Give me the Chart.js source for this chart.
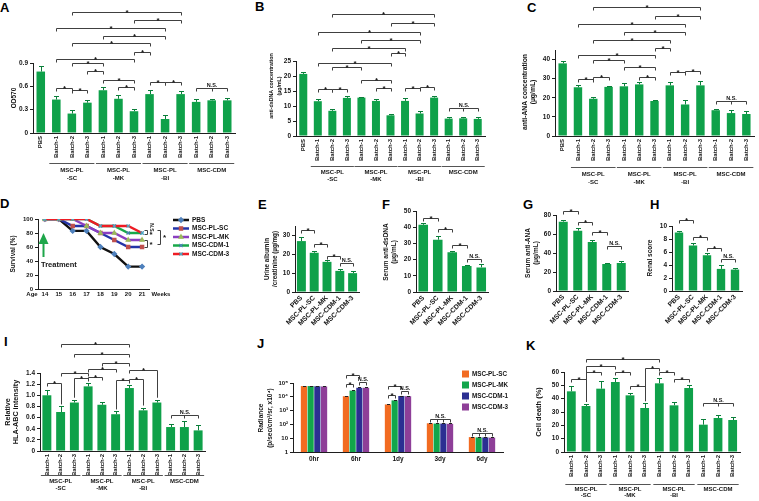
<!DOCTYPE html>
<html>
<head>
<meta charset="utf-8">
<title>MSC batches figure</title>
<script src="https://cdn.jsdelivr.net/npm/chart.js@4.4.1/dist/chart.umd.min.js"></script>
<style>
  body { margin:0; width:759px; height:501px; background:#fff; position:relative; overflow:hidden; font-family:"Liberation Sans", Arial, sans-serif; }
  canvas { position:absolute; }
  .tag { position:absolute; font-weight:bold; font-size:13px; line-height:13px; color:#000; }
</style>
</head>
<body>
<div class="tag" style="left:0px;top:1px">A</div>
<div class="tag" style="left:255px;top:0px">B</div>
<div class="tag" style="left:527px;top:1px">C</div>
<div class="tag" style="left:0px;top:197px">D</div>
<div class="tag" style="left:258px;top:198px">E</div>
<div class="tag" style="left:382px;top:198px">F</div>
<div class="tag" style="left:523px;top:198px">G</div>
<div class="tag" style="left:650px;top:198px">H</div>
<div class="tag" style="left:4px;top:335px">I</div>
<div class="tag" style="left:257px;top:337px">J</div>
<div class="tag" style="left:526px;top:339px">K</div>
<script>
// ---- data ----
const batches = ['Batch-1', 'Batch-2', 'Batch-3'];
const batchLabels = [].concat(batches, batches, batches, batches);
const panelLabels = ['PBS'].concat(batchLabels);
const groupNames = [['MSC-PL', '-SC'], ['MSC-PL', '-MK'], ['MSC-PL', '-BI'], ['MSC-CDM']];

const od570    = [0.79, 0.43, 0.25, 0.39, 0.55, 0.44, 0.28, 0.50, 0.18, 0.50, 0.40, 0.42, 0.42];
const od570Err = [0.07, 0.05, 0.04, 0.04, 0.04, 0.05, 0.03, 0.05, 0.05, 0.04, 0.04, 0.02, 0.03];
const dsDNA    = [20.7, 11.6, 8.4, 12.7, 12.8, 11.7, 6.9, 11.7, 7.5, 12.8, 5.8, 5.9, 5.7];
const dsDNAErr = [0.7, 0.8, 0.5, 0.6, 0.2, 0.8, 0.4, 1.0, 0.9, 0.6, 0.5, 0.3, 0.8];
const ana      = [38.0, 25.5, 19.5, 25.7, 26.0, 27.0, 18.3, 26.5, 16.5, 26.5, 13.5, 12.0, 11.5];
const anaErr   = [1.2, 1.0, 0.8, 0.3, 1.5, 1.0, 0.4, 1.5, 2.2, 2.5, 0.5, 1.5, 1.5];

const weeks     = [14, 15, 16, 17, 18, 19, 20, 21];
const survPBS   = [100, 100, 83, 83, 60, 50, 32, 32];
const survSC    = [100, 100, 90, 90, 80, 70, 60, 60];
const survMK    = [100, 100, 100, 90, 80, 80, 70, 70];
const survCDM1  = [100, 100, 100, 100, 90, 90, 80, 80];
const survCDM3  = [100, 100, 100, 100, 90, 90, 90, 80];

const treatments    = ['PBS', 'MSC-PL-SC', 'MSC-PL-MK', 'MSC-CDM-1', 'MSC-CDM-3'];
const albumin       = [27.0, 20.8, 16.0, 11.2, 10.0];
const albuminErr    = [2.0, 1.2, 1.0, 1.0, 1.2];
const serumDsDNA    = [41.5, 32.3, 24.5, 16.1, 15.2];
const serumDsDNAErr = [1.2, 2.5, 1.0, 0.4, 1.8];
const serumANA      = [73.0, 63.5, 51.5, 28.5, 29.5];
const serumANAErr   = [2.0, 2.5, 2.5, 1.5, 2.5];
const renal         = [9.0, 7.0, 5.5, 3.4, 3.3];
const renalErr      = [0.3, 0.4, 0.4, 0.6, 0.3];

const hla    = [1.00, 0.70, 0.87, 1.16, 0.83, 0.66, 1.13, 0.73, 0.87, 0.43, 0.43, 0.37];
const hlaErr = [0.09, 0.10, 0.05, 0.06, 0.05, 0.05, 0.05, 0.05, 0.05, 0.05, 0.11, 0.10];

const timepoints = ['0hr', '6hr', '1dy', '3dy', '6dy'];
const radSC   = [60000, 11000, 2800, 120, 12];
const radMK   = [60000, 28000, 5500, 115, 11.5];
const radCDM1 = [58000, 45000, 11500, 115, 11.5];
const radCDM3 = [56000, 45000, 11000, 110, 11];
const radSCErr   = [3000, 800, 200, 8, 1];
const radMKErr   = [3000, 1800, 400, 8, 1];
const radCDM1Err = [3000, 2500, 800, 8, 1];
const radCDM3Err = [3000, 2500, 800, 8, 1];
const radTicks = [1, 10, 100, 1000, 10000, 100000];
const radTickLabels = ['1', '10', '10\u00B2', '10\u00B3', '10\u2074', '10\u2075'];

const cellDeath    = [45.5, 34.5, 47.5, 52.5, 42.5, 33.0, 51.5, 35.0, 48.0, 20.5, 25.5, 24.0];
const cellDeathErr = [4.0, 1.5, 5.5, 3.0, 2.0, 3.5, 4.0, 2.5, 2.5, 4.5, 2.5, 2.0];

// ---- styling ----
const GREEN = '#0fa14a', ERR = '#0b7f3a', AX = '#1e1e1e', INK = '#141414', BR = '#404040';
const FONT = "'Liberation Sans', Arial, sans-serif";
Chart.defaults.font.family = FONT;
Chart.defaults.font.weight = 'bold';
Chart.defaults.font.size = 6;
Chart.defaults.color = INK;

function font(size, w) { return (w || 'bold') + ' ' + size + 'px ' + FONT; }
const fmtDec = v => (v === 0 ? '0' : v.toFixed(1));
const fmtInt = v => String(Math.round(v));

function canvasAt(box) {
  const c = document.createElement('canvas');
  c.width = box[2]; c.height = box[3];
  c.style.left = box[0] + 'px'; c.style.top = box[1] + 'px';
  c.style.width = box[2] + 'px'; c.style.height = box[3] + 'px';
  document.body.appendChild(c);
  return c;
}

// box = canvas [x, y, w, h] on page, area = plot [left, top, right, bottom] on page
function frame(box, area) {
  return {
    padding: { left: 0, top: area[1] - box[1], right: box[0] + box[2] - area[2], bottom: 0 },
    yW: area[0] - box[0],
    xH: box[1] + box[3] - area[3]
  };
}

function xCat(f, rot, size, pad) {
  return {
    type: 'category', offset: true,
    grid: { display: false, drawTicks: false },
    border: { color: AX, width: 1 },
    ticks: { autoSkip: false, minRotation: rot, maxRotation: rot, padding: pad, font: { size: size } },
    afterFit: s => { s.height = f.xH; }
  };
}

function yLin(f, max, step, fmt) {
  return {
    type: 'linear', min: 0, max: max,
    grid: { drawOnChartArea: false, tickLength: 3, color: AX },
    border: { color: AX, width: 1 },
    ticks: { stepSize: step, padding: 2, font: { size: 6.5 }, callback: fmt },
    afterFit: s => { s.width = f.yW; }
  };
}

function br(list) {
  return list.map(b => ({ a: [0, b[0]], b: [0, b[1]], y: b[2], t: b[3] || '*', leg: b[4] || '', mid: b[4] === 'm' }));
}

function deco(box, d) {
  return {
    id: 'deco',
    afterDatasetsDraw(chart) {
      const ctx = chart.ctx, ox = box[0], oy = box[1], ys = chart.scales.y;
      const val = p => chart.data.datasets[p[0]].data[p[1]];
      const X = p => chart.getDatasetMeta(p[0]).data[p[1]].x + ox;
      const Y = v => ys.getPixelForValue(v) + oy;
      const errOf = p => (d.errors && d.errors[p[0]]) ? d.errors[p[0]][p[1]] : 0;
      const top = p => Y(val(p) + errOf(p));
      ctx.save();
      ctx.translate(-ox, -oy);
      ctx.lineWidth = 1;

      // error bars
      (d.errors || []).forEach((errs, ds) => {
        if (!errs) return;
        ctx.strokeStyle = d.errColor || ERR;
        const c = d.cap || 2.5;
        errs.forEach((e, i) => {
          const x = Math.round(X([ds, i])) + 0.5, y0 = Y(val([ds, i])), y1 = Math.round(top([ds, i])) + 0.5;
          ctx.beginPath();
          ctx.moveTo(x, y0); ctx.lineTo(x, y1);
          ctx.moveTo(x - c, y1); ctx.lineTo(x + c, y1);
          ctx.stroke();
        });
      });

      // significance brackets
      ctx.textAlign = 'center';
      (d.brackets || []).forEach(b => {
        const x1 = Math.round(X(b.a)) + 0.5, x2 = Math.round(X(b.b)) + 0.5, y = Math.round(b.y) + 0.5;
        const l1 = b.leg.indexOf('l') >= 0 ? top(b.a) - 2 : y + 3;
        const l2 = b.leg.indexOf('r') >= 0 ? top(b.b) - 2 : y + 3;
        ctx.strokeStyle = BR;
        ctx.beginPath();
        ctx.moveTo(x1, l1); ctx.lineTo(x1, y); ctx.lineTo(x2, y); ctx.lineTo(x2, l2);
        if (b.mid) {
          const same = b.a[0] === b.b[0];
          const from = same ? b.a[1] : b.a[0], to = same ? b.b[1] : b.b[0];
          for (let k = from + 1; k < to; k++) {
            const xm = Math.round(X(same ? [b.a[0], k] : [k, b.a[1]])) + 0.5;
            ctx.moveTo(xm, y); ctx.lineTo(xm, y + 3);
          }
        }
        ctx.stroke();
        const star = b.t === '*';
        ctx.fillStyle = INK;
        ctx.font = star ? font(8) : font(5.5);
        ctx.textBaseline = 'alphabetic';
        ctx.fillText(b.t, (x1 + x2) / 2, star ? y + 2.5 : y - 1.5);
      });

      // group underlines
      if (d.groups) {
        const g = d.groups;
        g.spans.forEach((s, k) => {
          const xa = X([0, s[0]]) - g.pad, xb = X([0, s[1]]) + g.pad;
          ctx.strokeStyle = '#555';
          ctx.beginPath(); ctx.moveTo(xa, g.y + 0.5); ctx.lineTo(xb, g.y + 0.5); ctx.stroke();
          ctx.fillStyle = INK; ctx.font = font(6); ctx.textBaseline = 'middle'; ctx.textAlign = 'center';
          groupNames[k].forEach((line, m) => ctx.fillText(line, (xa + xb) / 2, g.ly[m]));
        });
      }

      // free texts (axis titles etc.)
      (d.texts || []).forEach(t => {
        ctx.save();
        ctx.font = font(t.s || 6, t.w);
        ctx.textAlign = t.al || 'center'; ctx.textBaseline = 'middle'; ctx.fillStyle = INK;
        ctx.translate(t.x, t.y);
        if (t.r) ctx.rotate(t.r * Math.PI / 180);
        ctx.fillText(t.t, 0, 0);
        ctx.restore();
      });

      if (d.extra) d.extra(ctx, chart, X, Y);
      ctx.restore();
    }
  };
}

function barPanel(box, area, labels, values, errors, yMax, step, fmt, barPct, d) {
  const f = frame(box, area);
  d.errors = [errors];
  return new Chart(canvasAt(box), {
    type: 'bar',
    data: { labels: labels, datasets: [{ data: values, backgroundColor: GREEN, barPercentage: barPct, categoryPercentage: 1 }] },
    options: {
      responsive: false, animation: false,
      layout: { padding: f.padding },
      plugins: { legend: { display: false }, tooltip: { enabled: false } },
      scales: { x: xCat(f, d.rot || 90, d.xSize || 6, d.xPad || 3), y: yLin(f, yMax, step, fmt) }
    },
    plugins: [deco(box, d)]
  });
}

const plGroups = [[1, 3], [4, 6], [7, 9], [10, 12]];
const batchGroups = [[0, 2], [3, 5], [6, 8], [9, 11]];

// A
barPanel([0, 0, 248, 188], [33, 63, 235, 133], panelLabels, od570, od570Err, 0.9, 0.3, fmtDec, 0.55, {
  brackets: br([[1, 2, 88], [2, 3, 90], [4, 6, 80], [5, 6, 87], [7, 8, 82], [8, 9, 82], [10, 12, 88, 'N.S.', 'm'],
    [3, 4, 71], [2, 4, 63], [1, 6, 59], [6, 7, 52], [2, 7, 43], [4, 8, 36], [1, 8, 28], [6, 9, 20], [2, 9, 12]]),
  groups: { spans: plGroups, y: 163, ly: [170, 178], pad: 7 },
  texts: [{ t: 'OD570', x: 14, y: 98, r: -90, s: 6.5 }]
});

// B
barPanel([250, 0, 252, 188], [296, 61, 485, 136], panelLabels, dsDNA, dsDNAErr, 25, 5, fmtInt, 0.55, {
  brackets: br([[1, 2, 89], [2, 3, 89], [4, 6, 80], [5, 6, 88], [7, 8, 88], [8, 9, 87], [10, 12, 108, 'N.S.', 'm'],
    [2, 4, 67], [1, 6, 63], [6, 7, 53], [2, 7, 48], [4, 8, 40], [1, 8, 32], [6, 9, 23], [2, 9, 14]]),
  groups: { spans: plGroups, y: 166, ly: [172, 179], pad: 7 },
  texts: [{ t: 'anti-dsDNA concentration', x: 272, y: 86, r: -90, s: 5.3 }, { t: '(\u00B5g/mL)', x: 280, y: 86, r: -90, s: 5.3 }]
});

// C
barPanel([505, 0, 254, 188], [555, 50, 754, 136], panelLabels, ana, anaErr, 45, 5, fmtInt, 0.55, {
  brackets: br([[1, 2, 79], [2, 3, 77], [4, 6, 67], [5, 6, 77], [7, 8, 72], [8, 9, 71], [10, 12, 101, 'N.S.', 'm'],
    [2, 4, 60], [1, 6, 55], [6, 7, 48], [2, 7, 40], [4, 8, 32], [1, 8, 24], [6, 9, 16], [2, 9, 7]]),
  groups: { spans: plGroups, y: 167, ly: [174, 182], pad: 7 },
  texts: [{ t: 'anti-ANA concentration', x: 525, y: 92, r: -90, s: 6.8 }, { t: '(\u00B5g/mL)', x: 533, y: 92, r: -90, s: 6.8 }]
});

// D survival
(function () {
  const box = [0, 197, 248, 110], area = [38, 219, 149, 289];
  const f = frame(box, area);
  const series = [
    { label: 'PBS', data: survPBS, color: '#111111', ps: 'rectRot', pc: '#4f81bd', order: 4 },
    { label: 'MSC-PL-SC', data: survSC, color: '#2434a8', ps: 'rect', pc: '#c0504d', order: 3 },
    { label: 'MSC-PL-MK', data: survMK, color: '#8b3fc0', ps: 'triangle', pc: '#9bbb59', order: 2 },
    { label: 'MSC-CDM-1', data: survCDM1, color: '#18a84a', ps: 'crossRot', pc: '#4f81bd', order: 1 },
    { label: 'MSC-CDM-3', data: survCDM3, color: '#ee1c24', ps: 'crossRot', pc: '#4bacc6', order: 0 }
  ];
  new Chart(canvasAt(box), {
    type: 'line',
    data: {
      datasets: series.map(s => ({
        label: s.label, data: weeks.map((w, i) => ({ x: w, y: s.data[i] })),
        borderColor: s.color, borderWidth: 2.4, tension: 0, order: s.order,
        pointStyle: s.ps, pointRadius: 2.3, pointBackgroundColor: s.pc, pointBorderColor: s.pc, pointBorderWidth: 1.2
      }))
    },
    options: {
      responsive: false, animation: false,
      layout: { padding: f.padding },
      plugins: { legend: { display: false }, tooltip: { enabled: false } },
      scales: {
        x: {
          type: 'linear', min: 13.5, max: 21.5,
          grid: { display: false, drawTicks: false }, border: { color: AX, width: 1 },
          afterBuildTicks: s => { s.ticks = weeks.map(v => ({ value: v })); },
          ticks: { padding: 2, font: { size: 6 } },
          afterFit: s => { s.height = f.xH; }
        },
        y: {
          type: 'linear', min: 0, max: 100,
          grid: { drawOnChartArea: false, tickLength: 3, color: AX }, border: { color: AX, width: 1 },
          ticks: { stepSize: 20, padding: 2, font: { size: 6 } },
          afterFit: s => { s.width = f.yW; }
        }
      }
    },
    plugins: [deco(box, {
      texts: [
        { t: 'Survival (%)', x: 13, y: 254, r: -90, s: 6.5 },
        { t: 'Age', x: 32, y: 294.5, s: 6 },
        { t: 'Weeks', x: 161, y: 294.5, s: 6 },
        { t: 'Treatment', x: 41, y: 264.5, s: 7.5, al: 'left' }
      ],
      extra: (ctx, chart, X, Y) => {
        // legend
        series.forEach((s, k) => {
          const y = 220 + k * 8.5;
          ctx.strokeStyle = s.color; ctx.lineWidth = 2.5;
          ctx.beginPath(); ctx.moveTo(173, y); ctx.lineTo(189, y); ctx.stroke();
          ctx.fillStyle = s.pc; ctx.strokeStyle = s.pc; ctx.lineWidth = 1.2;
          if (Chart.helpers && Chart.helpers.drawPoint) {
            Chart.helpers.drawPoint(ctx, { pointStyle: s.ps, radius: 2.3, borderWidth: 1.2, rotation: 0 }, 181, y);
          }
          ctx.fillStyle = INK; ctx.font = font(6.5); ctx.textAlign = 'left'; ctx.textBaseline = 'middle';
          ctx.fillText(s.label, 192, y);
        });
        // treatment arrow
        ctx.fillStyle = '#1ea64a';
        ctx.beginPath(); ctx.moveTo(43.5, 233); ctx.lineTo(48.5, 244); ctx.lineTo(38.5, 244); ctx.closePath(); ctx.fill();
        ctx.fillRect(42.5, 243, 2, 14);
        // comparison brackets at week 21
        ctx.strokeStyle = BR; ctx.lineWidth = 1; ctx.fillStyle = INK;
        const vb = (x, v1, v2) => {
          const y1 = Math.round(Y(v1)) + 0.5, y2 = Math.round(Y(v2)) + 0.5;
          ctx.beginPath(); ctx.moveTo(x - 3, y1); ctx.lineTo(x, y1); ctx.lineTo(x, y2); ctx.lineTo(x - 3, y2); ctx.stroke();
        };
        vb(147.5, 85, 78);
        vb(160.5, 85, 65);
        vb(147.5, 70, 60);
        ctx.save(); ctx.translate(151, Y(87)); ctx.rotate(Math.PI / 2);
        ctx.font = font(5); ctx.textAlign = 'center'; ctx.textBaseline = 'middle'; ctx.fillText('N.S.', 0, 0); ctx.restore();
        ctx.font = font(8); ctx.textAlign = 'left'; ctx.textBaseline = 'middle';
        ctx.fillText('*', 149.5, Y(79) + 1.5);
        ctx.fillText('*', 163, Y(75) + 1.5);
        ctx.fillText('*', 149.5, Y(65) + 1.5);
      }
    })]
  });
})();

// E - H
barPanel([245, 200, 125, 140], [295, 226, 359, 292], treatments, albumin, albuminErr, 35, 5, fmtInt, 0.7, {
  rot: 45, xSize: 6.8, xPad: 2,
  brackets: br([[0, 1, 230], [1, 2, 244], [2, 3, 256], [3, 4, 263, 'N.S.']]),
  texts: [{ t: 'Urine albumin', x: 267, y: 259 }, { t: '/creatinine (\u00B5g/mg)', x: 275, y: 259 }].map(t => Object.assign(t, { r: -90, s: 6.3 }))
});
barPanel([372, 200, 124, 140], [416, 211, 488.5, 292], treatments, serumDsDNA, serumDsDNAErr, 50, 10, fmtInt, 0.66, {
  rot: 45, xSize: 6.8, xPad: 2,
  brackets: br([[0, 1, 218], [1, 2, 229], [2, 3, 245], [3, 4, 259, 'N.S.']]),
  texts: [{ t: 'Serum anti-dsDNA', x: 386, y: 252 }, { t: '(\u00B5g/mL)', x: 394, y: 252 }].map(t => Object.assign(t, { r: -90, s: 6.5 }))
});
barPanel([498, 200, 132, 140], [556, 215, 628.5, 291], treatments, serumANA, serumANAErr, 80, 20, fmtInt, 0.62, {
  rot: 45, xSize: 6.8, xPad: 2,
  brackets: br([[0, 1, 211], [1, 2, 222], [2, 3, 232], [3, 4, 246, 'N.S.']]),
  texts: [{ t: 'Serum anti-ANA', x: 528, y: 253 }, { t: '(\u00B5g/mL)', x: 536, y: 253 }].map(t => Object.assign(t, { r: -90, s: 6.5 }))
});
barPanel([632, 200, 127, 140], [672, 226, 742, 291], treatments, renal, renalErr, 10, 2, fmtInt, 0.6, {
  rot: 45, xSize: 6.8, xPad: 2,
  brackets: br([[0, 1, 220], [1, 2, 237], [2, 3, 248], [3, 4, 259, 'N.S.']]),
  texts: [{ t: 'Renal score', x: 650, y: 258, r: -90, s: 6.5 }]
});

// I
barPanel([0, 338, 248, 163], [40, 373, 205, 451], batchLabels, hla, hlaErr, 1.4, 0.2, fmtDec, 0.65, {
  brackets: br([[0, 1, 383, '*', 'r'], [1, 6, 344], [2, 6, 354], [4, 6, 363], [1, 3, 373], [2, 3, 378, '*', 'l'],
    [3, 4, 377], [3, 5, 369], [5, 6, 380, '*', 'l'], [6, 7, 379, '*', 'r'], [6, 8, 370, '*', 'r'], [9, 11, 415, 'N.S.', 'm']]),
  groups: { spans: batchGroups, y: 475, ly: [481, 488], pad: 6 },
  texts: [{ t: 'Relative', x: 8, y: 412, r: -90, s: 7.2 }, { t: 'HLA-ABC intensity', x: 16, y: 412, r: -90, s: 7.2 }]
});

// J radiance (log)
(function () {
  const box = [250, 338, 262, 163], area = [293, 383, 503, 452];
  const f = frame(box, area);
  const cols = ['#f26b21', '#12a64b', '#2b2f92', '#8e3f98'];
  const names = ['MSC-PL-SC', 'MSC-PL-MK', 'MSC-CDM-1', 'MSC-CDM-3'];
  const sets = [radSC, radMK, radCDM1, radCDM3];
  const jb = (g, d1, d2, y, t, mid) => ({ a: [d1, g], b: [d2, g], y: y, t: t, leg: '', mid: !!mid });
  new Chart(canvasAt(box), {
    type: 'bar',
    data: {
      labels: timepoints,
      datasets: sets.map((s, k) => ({ label: names[k], data: s, backgroundColor: cols[k], barPercentage: 0.92, categoryPercentage: 0.64 }))
    },
    options: {
      responsive: false, animation: false,
      layout: { padding: f.padding },
      plugins: { legend: { display: false }, tooltip: { enabled: false } },
      scales: {
        x: xCat(f, 0, 6.5, 3),
        y: {
          type: 'logarithmic', min: 1, max: 100000,
          afterBuildTicks: s => { s.ticks = radTicks.map(v => ({ value: v })); },
          grid: { drawOnChartArea: false, tickLength: 3, color: AX }, border: { color: AX, width: 1 },
          ticks: { padding: 2, font: { size: 6 }, callback: (v, i) => radTickLabels[i] },
          afterFit: s => { s.width = f.yW; }
        }
      }
    },
    plugins: [deco(box, {
      errors: [radSCErr, radMKErr, radCDM1Err, radCDM3Err], errColor: '#222', cap: 1.5,
      brackets: [jb(1, 0, 1, 384, '*'), jb(1, 0, 2, 375, '*'), jb(1, 2, 3, 382, 'N.S.'),
        jb(2, 0, 1, 395, '*'), jb(2, 0, 2, 386, '*'), jb(2, 2, 3, 391, 'N.S.'),
        jb(3, 0, 3, 419, 'N.S.', true), jb(4, 0, 3, 433, 'N.S.', true)],
      texts: [{ t: 'Radiance', x: 261, y: 418, r: -90, s: 6.5 }, { t: '(p/sec/cm\u00B2/sr, x10\u2074)', x: 270, y: 418, r: -90, s: 6.5 }],
      extra: ctx => {
        names.forEach((n, k) => {
          const y = 374 + k * 11;
          ctx.fillStyle = cols[k]; ctx.fillRect(462, y - 3.5, 7, 7);
          ctx.fillStyle = INK; ctx.font = font(6.3); ctx.textAlign = 'left'; ctx.textBaseline = 'middle';
          ctx.fillText(n, 472, y);
        });
      }
    })]
  });
})();

// K
barPanel([512, 338, 247, 163], [564, 372, 740, 452], batchLabels, cellDeath, cellDeathErr, 60, 10, fmtInt, 0.6, {
  brackets: br([[1, 6, 359], [1, 3, 366, '*', 'l'], [0, 1, 379, '*', 'r'], [1, 2, 372, '*', 'l'], [3, 4, 372], [4, 5, 386],
    [5, 6, 368, '*', 'l'], [6, 7, 372], [7, 8, 379], [9, 11, 403, 'N.S.', 'm']]),
  groups: { spans: batchGroups, y: 484, ly: [489, 495], pad: 6 },
  texts: [{ t: 'Cell death (%)', x: 539, y: 412, r: -90, s: 7.5 }]
});
</script>
</body>
</html>
